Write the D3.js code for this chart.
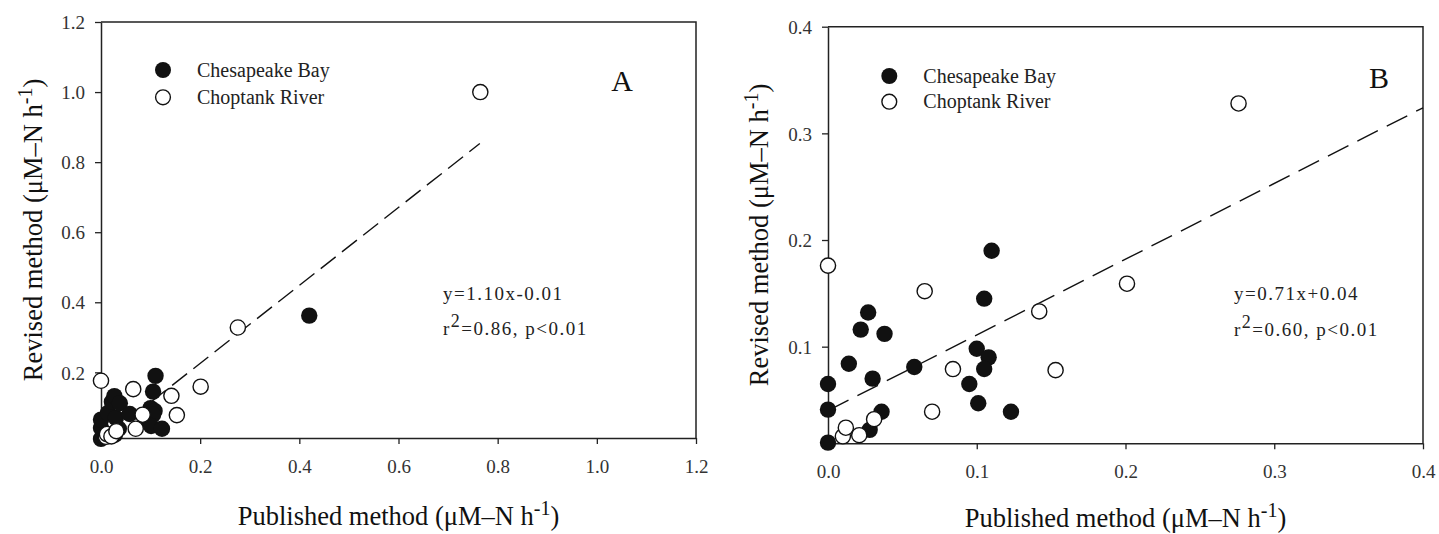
<!DOCTYPE html>
<html>
<head>
<meta charset="utf-8">
<script src="https://cdn.jsdelivr.net/npm/d3@7"></script>
<style>
  body { margin: 0; background: #fff; }
  svg { display: block; font-family: "Liberation Serif", "Times New Roman", serif; }
  svg text { font-family: "Liberation Serif", "Times New Roman", serif; }
  .tick-label { font-size: 19px; fill: #333; }
  .axis-title { font-size: 26.5px; fill: #111; }
  .legend-text { font-size: 20px; fill: #222; }
  .eq { font-size: 19px; fill: #222; letter-spacing: 1.5px; }
  .panel-tag { font-size: 30px; fill: #111; }
</style>
</head>
<body>
<div id="chart"></div>
<script>
// Chesapeake Bay (filled) and Choptank River (open)
const chesapeake = [
  [0.000, 0.010], [0.000, 0.041], [0.000, 0.065], [0.014, 0.084],
  [0.022, 0.116], [0.027, 0.132], [0.030, 0.070], [0.038, 0.112],
  [0.036, 0.039], [0.028, 0.022], [0.058, 0.081], [0.095, 0.065],
  [0.100, 0.098], [0.108, 0.090], [0.105, 0.079], [0.101, 0.047],
  [0.105, 0.145], [0.123, 0.039], [0.110, 0.190]
];
const choptank = [
  [0.000, 0.176], [0.010, 0.016], [0.012, 0.024], [0.021, 0.017],
  [0.031, 0.032], [0.065, 0.152], [0.070, 0.039], [0.084, 0.079],
  [0.142, 0.133], [0.153, 0.078], [0.201, 0.159], [0.276, 0.328]
];
// points only shown in panel A
const chesapeakeExtraA = [[0.420, 0.362]];
const choptankExtraA = [[0.765, 1.000]];

// dashed regression lines (end points)
const fitA = [[0.015, 0.020], [0.764, 0.853]];
const fitB = [[0.000, 0.040], [0.400, 0.324]];

const ticksXA = [0.0, 0.2, 0.4, 0.6, 0.8, 1.0, 1.2];
const ticksYA = [0.2, 0.4, 0.6, 0.8, 1.0, 1.2];
const ticksXB = [0.0, 0.1, 0.2, 0.3, 0.4];
const ticksYB = [0.1, 0.2, 0.3, 0.4];

const legendLabels = ["Chesapeake Bay", "Choptank River"];

const width = 1439, height = 534;

let svg = d3.select("#chart").append("svg")
  .attr("width", width)
  .attr("height", height);

function styleAxis(ax) {
  // drop d3's default sans-serif font so the page font is used
  ax.attr("font-family", null).attr("font-size", null);
  ax.select(".domain").attr("stroke", "#222").attr("stroke-width", 1.5);
  ax.selectAll(".tick line").attr("stroke", "#222").attr("stroke-width", 1.3);
  ax.selectAll(".tick text").attr("class", "tick-label").attr("fill", null);
}

function drawPanel(p) {
  let x = d3.scaleLinear().domain(p.xDomain).range([p.left, p.right]);
  let y = d3.scaleLinear().domain(p.yDomain).range([p.bottom, p.top]);
  let g = svg.append("g");

  // frame: top and right
  g.append("path")
    .attr("d", `M${p.left},${p.top}H${p.right}V${p.bottom}`)
    .attr("fill", "none")
    .attr("stroke", "#222")
    .attr("stroke-width", 1.5);

  // x axis
  let xAxis = g.append("g")
    .attr("transform", `translate(0,${p.bottom})`)
    .call(d3.axisBottom(x).tickValues(p.ticksX).tickSize(6).tickSizeOuter(0).tickFormat(d3.format(".1f")));
  styleAxis(xAxis);
  xAxis.selectAll(".tick text").attr("y", 35).attr("dy", null);

  // y axis
  let yAxis = g.append("g")
    .attr("transform", `translate(${p.left},0)`)
    .call(d3.axisLeft(y).tickValues(p.ticksY).tickSize(6).tickSizeOuter(0).tickFormat(d3.format(".1f")));
  styleAxis(yAxis);
  yAxis.selectAll(".tick text").attr("x", -16).attr("dy", "0.35em");

  // regression line
  g.append("line")
    .attr("x1", x(p.fit[0][0])).attr("y1", y(p.fit[0][1]))
    .attr("x2", x(p.fit[1][0])).attr("y2", y(p.fit[1][1]))
    .attr("stroke", "#111")
    .attr("stroke-width", 1.4)
    .attr("stroke-dasharray", p.dash);

  // filled first, open circles on top
  g.selectAll("circle.cb")
    .data(p.filled)
    .enter().append("circle")
    .attr("class", "cb")
    .attr("cx", d => x(d[0]))
    .attr("cy", d => y(d[1]))
    .attr("r", 8.2)
    .attr("fill", "#111");

  g.selectAll("circle.cr")
    .data(p.open)
    .enter().append("circle")
    .attr("class", "cr")
    .attr("cx", d => x(d[0]))
    .attr("cy", d => y(d[1]))
    .attr("r", 7.6)
    .attr("fill", "#fff")
    .attr("stroke", "#111")
    .attr("stroke-width", 1.4);

  // legend
  legendLabels.forEach((lab, i) => {
    let cy = p.legY[i];
    g.append("circle")
      .attr("cx", p.legX).attr("cy", cy)
      .attr("r", i === 0 ? 8 : 7.4)
      .attr("fill", i === 0 ? "#111" : "#fff")
      .attr("stroke", "#111")
      .attr("stroke-width", i === 0 ? 0 : 1.4);
    g.append("text")
      .attr("class", "legend-text")
      .attr("x", p.legX + 34).attr("y", cy + 6.5)
      .text(lab);
  });

  // panel letter
  g.append("text")
    .attr("class", "panel-tag")
    .attr("x", p.tagX).attr("y", p.tagY)
    .attr("text-anchor", "middle")
    .text(p.tag);

  // equation
  g.append("text")
    .attr("class", "eq")
    .attr("x", p.eqX).attr("y", p.eqY)
    .text(p.eq1);
  let r2 = g.append("text")
    .attr("class", "eq")
    .attr("x", p.eqX).attr("y", p.eqY + 35.5);
  r2.append("tspan").text("r");
  r2.append("tspan").attr("dy", -8).style("font-size", "18px").text("2");
  r2.append("tspan").attr("dy", 8).text(p.eq2);

  // axis titles
  let xt = g.append("text")
    .attr("class", "axis-title")
    .attr("x", (p.left + p.right) / 2).attr("y", p.xTitleY)
    .attr("text-anchor", "middle");
  xt.append("tspan").text("Published method (\u03bcM\u2013N h");
  xt.append("tspan").attr("dy", -10).style("font-size", "20px").text("-1");
  xt.append("tspan").attr("dy", 10).text(")");

  let yt = g.append("text")
    .attr("class", "axis-title")
    .attr("transform", `translate(${p.yTitleX},${(p.top + p.bottom) / 2}) rotate(-90)`)
    .attr("text-anchor", "middle");
  yt.append("tspan").text("Revised method (\u03bcM\u2013N h");
  yt.append("tspan").attr("dy", -10).style("font-size", "20px").text("-1");
  yt.append("tspan").attr("dy", 10).text(")");
}

drawPanel({
  xDomain: [0, 1.2], yDomain: [0.0126, 1.2],
  left: 101, right: 696, top: 22, bottom: 438,
  ticksX: ticksXA, ticksY: ticksYA,
  filled: chesapeake.concat(chesapeakeExtraA),
  open: choptank.concat(choptankExtraA),
  fit: fitA, dash: "19,8",
  legX: 163, legY: [70, 97.3],
  tag: "A", tagX: 622, tagY: 90.5,
  eqX: 443, eqY: 299.5, eq1: "y=1.10x-0.01", eq2: "=0.86, p<0.01",
  xTitleY: 525, yTitleX: 42
});

drawPanel({
  xDomain: [0, 0.4], yDomain: [0.0094, 0.4],
  left: 828, right: 1423, top: 26.7, bottom: 443.3,
  ticksX: ticksXB, ticksY: ticksYB,
  filled: chesapeake,
  open: choptank,
  fit: fitB, dash: "23,10",
  legX: 889.3, legY: [76, 101.7],
  tag: "B", tagX: 1379, tagY: 88.3,
  eqX: 1234, eqY: 300, eq1: "y=0.71x+0.04", eq2: "=0.60, p<0.01",
  xTitleY: 527, yTitleX: 768
});
</script>
</body>
</html>
